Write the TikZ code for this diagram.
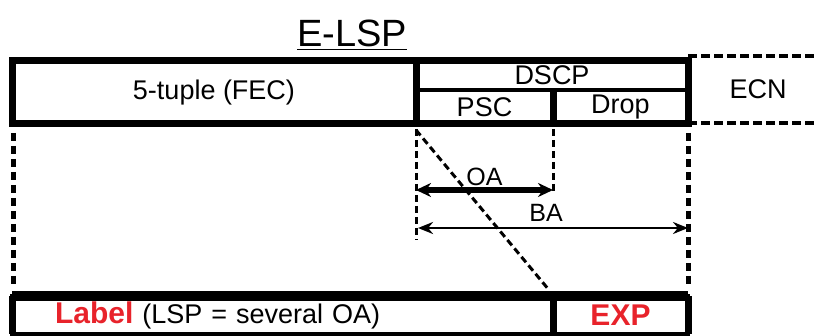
\documentclass[tikz,border=0pt]{standalone}
\usepackage{fontspec}
\setmainfont{Liberation Sans}
\usetikzlibrary{arrows.meta, positioning}
\definecolor{labelred}{HTML}{E8232B}

\begin{document}
\begin{tikzpicture}[
    x=1pt, y=-1pt,
    every node/.style = {font=\fontsize{27}{30}\selectfont, inner sep=0pt, outer sep=0pt},
    field/.style = {rectangle, draw, line width=3.5pt, anchor=north west},
    frame/.style = {line width=7pt},
    redtext/.style = {text=labelred, font=\fontsize{30}{32}\selectfont\bfseries},
    guide/.style = {line width=5pt, dash pattern=on 8pt off 5pt},
    thinguide/.style = {line width=3pt, dash pattern=on 7pt off 4pt},
    ecnline/.style = {line width=3.2pt, dash pattern=on 9pt off 4pt},
    oaarrow/.style = {{Stealth[length=15pt, width=14pt]}-{Stealth[length=15pt, width=14pt]}, line width=6pt},
    baarrow/.style = {{Stealth[length=15pt, width=12pt]}-{Stealth[length=15pt, width=12pt]}, line width=2.6pt}
  ]
    \useasboundingbox (0,0) rectangle (816,336);

    % Title
    \node[font=\fontsize{38}{40}\selectfont, anchor=base] (title) at (352,47) {\underline{E-LSP}};

    % Header fields
    \node[field, minimum width=404pt, minimum height=63pt] (fec) at (12,61) {5-tuple (FEC)};
    \node[field, minimum width=272pt, minimum height=29pt] (dscp) at (fec.north east) {DSCP};
    \node[field, minimum width=137pt, minimum height=34pt] (psc) at (dscp.south west) {PSC};
    \node[field, minimum width=135pt, minimum height=34pt] (drop) at (psc.north east) {Drop};
    \node[anchor=north west, minimum width=140pt, minimum height=67pt] (ecn) at ([yshift=5pt]dscp.north east) {ECN};

    \draw[frame] (fec.north west) rectangle (drop.south east);
    \draw[frame] (fec.north east) -- (fec.south east);
    \draw[frame] (psc.north east) -- (psc.south east);
    \draw[ecnline] (ecn.north west) -- (ecn.north east);
    \draw[ecnline] (ecn.south west) -- (ecn.south east);

    % Label fields
    \node[field, minimum height=38pt, text width=455pt, inner xsep=43pt, align=left] (label) at (12,296)
      {\textcolor{labelred}{\fontsize{30}{32}\selectfont\bfseries Label} (LSP = several OA)};
    \node[field, redtext, minimum width=135pt, minimum height=38pt] (exp) at (label.north east) {EXP};

    \draw[frame] (label.south west) -- (label.north west);
    \draw[frame] (exp.south east) -- (exp.north east);
    \draw[frame] (label.south east) -- (label.north east);
    \draw[line width=10pt] (label.north west) -- (exp.north east);

    % Mapping guides
    \coordinate (oaL) at ([yshift=-66pt]fec.south east);
    \coordinate (oaR) at ([yshift=-66pt]psc.south east);
    \coordinate (baL) at ([xshift=2pt, yshift=-104pt]fec.south east);
    \coordinate (baR) at ([yshift=-104pt]drop.south east);

    \draw[guide] ([xshift=1pt, yshift=-9pt]fec.south west) -- ([xshift=1pt, yshift=12pt]label.north west);
    \draw[guide] ([yshift=-9pt]drop.south east) -- ([yshift=12pt]exp.north east);
    \draw[thinguide] ([yshift=-5pt]fec.south east) -- ([yshift=-116pt]fec.south east);
    \draw[thinguide] ([yshift=-5pt]psc.south east) -- ([yshift=-70pt]psc.south east);
    \draw[thinguide] ([yshift=-6pt]fec.south east) -- ([xshift=-4pt, yshift=6pt]exp.north west);

    % Aggregates
    \draw[oaarrow] (oaL) -- node[above=4pt, font=\fontsize{25}{27}\selectfont] (oa) {OA} (oaR);
    \draw[baarrow] (baL) -- node[above=6pt, font=\fontsize{25}{27}\selectfont, xshift=-7pt] (ba) {BA} (baR);

  \end{tikzpicture}
\end{document}
